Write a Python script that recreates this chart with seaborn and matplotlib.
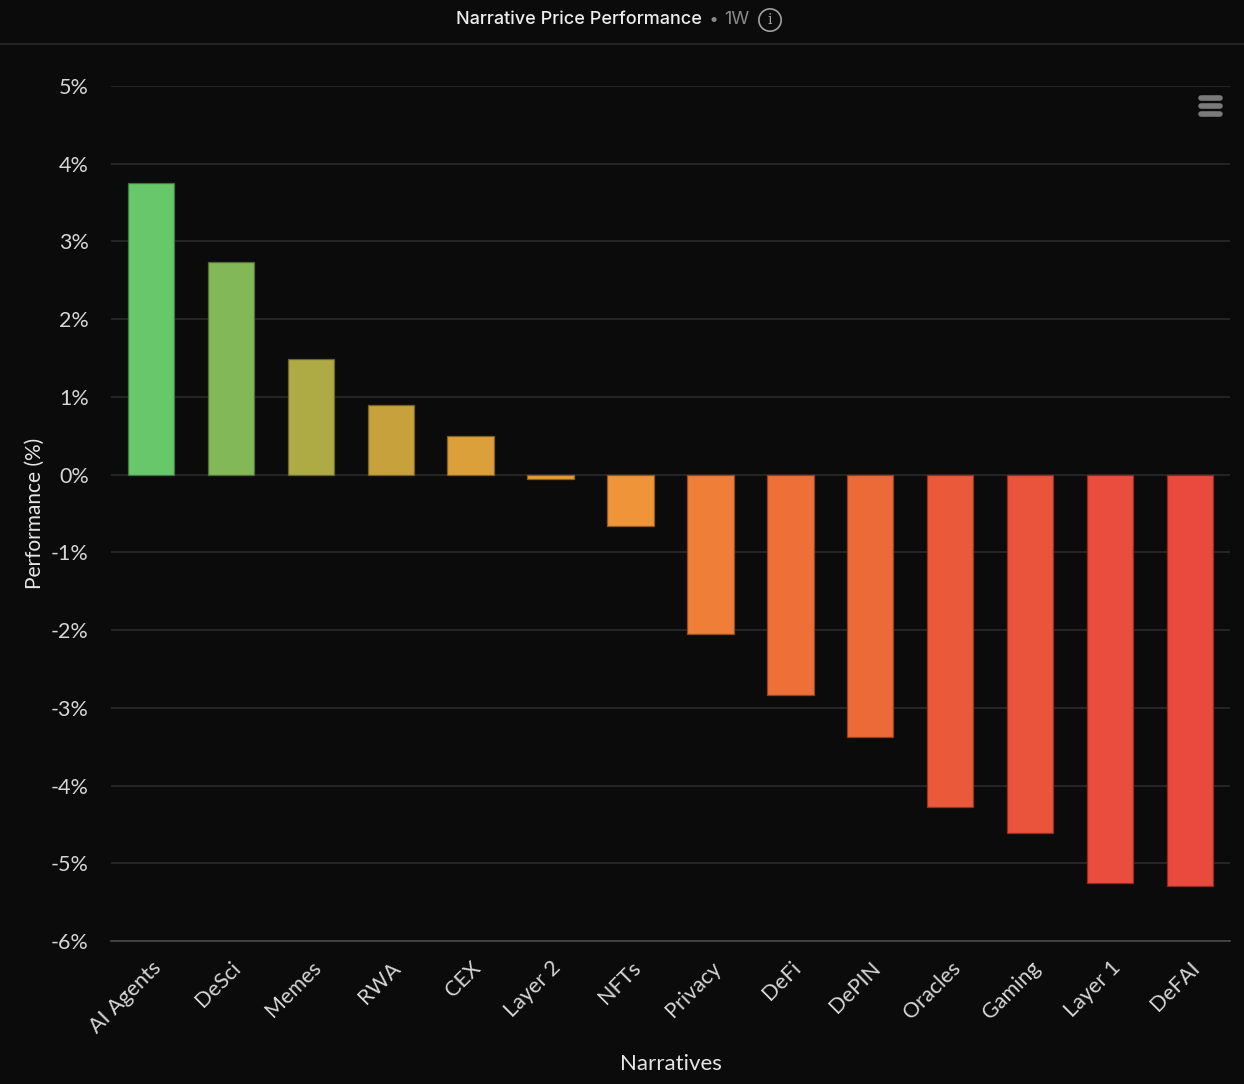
import matplotlib
matplotlib.use("Agg")
import matplotlib.pyplot as plt
from matplotlib.lines import Line2D
import seaborn as sns
import pandas as pd

narratives = ['AI Agents', 'DeSci', 'Memes', 'RWA', 'CEX', 'Layer 2', 'NFTs',
              'Privacy', 'DeFi', 'DePIN', 'Oracles', 'Gaming', 'Layer 1', 'DeFAI']
performance = [3.75, 2.73, 1.49, 0.90, 0.50, -0.05, -0.66,
               -2.05, -2.84, -3.37, -4.27, -4.61, -5.25, -5.29]
bar_colors = ['#67c76a', '#82b858', '#aeaa44', '#c7a23c', '#dba03a', '#e99c38', '#ef9438',
              '#ee7e38', '#ee7038', '#ec6a38', '#ea5a3a', '#ea533c', '#ea4d3d', '#ea4a3e']
y_ticks = [5, 4, 3, 2, 1, 0, -1, -2, -3, -4, -5, -6]

bg = '#0b0b0b'
sns.set_theme(style='dark')
plt.rcParams['font.family'] = ['Lato', 'DejaVu Sans']

data = pd.DataFrame({'narrative': narratives, 'perf': performance})

fig = plt.figure(figsize=(12.44, 10.84), dpi=100, facecolor=bg)
ax = fig.add_axes([0.0892, 0.1319, 0.8995, 0.7888], facecolor=bg)

sns.barplot(data=data, x='narrative', y='perf', hue='narrative',
            palette=dict(zip(narratives, bar_colors)), legend=False, saturation=1,
            width=0.58, ax=ax, linewidth=0.9, zorder=3)
# slightly darker outline per bar
for patch, c in zip(ax.patches, bar_colors):
    r, g, b = matplotlib.colors.to_rgb(c)
    patch.set_edgecolor((r * 0.6, g * 0.6, b * 0.6))

ax.set_xlim(-0.5, len(narratives) - 0.5)
ax.set_ylim(-6, 5)
ax.set_yticks(y_ticks)
ax.set_yticklabels([f'{t}%' for t in y_ticks])
ax.grid(axis='y', color='#2b2b2b', linewidth=1.2, zorder=0)
ax.grid(axis='x', visible=False)
for s in ['top', 'right', 'left']:
    ax.spines[s].set_visible(False)
ax.spines['bottom'].set_color('#4a4a4a')
ax.spines['bottom'].set_linewidth(1.2)

ax.tick_params(axis='y', colors='#d6d6d6', labelsize=15.5, length=0, pad=16)
ax.tick_params(axis='x', colors='#d6d6d6', labelsize=15.5, length=0, pad=12)
plt.setp(ax.get_xticklabels(), rotation=45, ha='right', rotation_mode='anchor')

ax.set_xlabel('Narratives', color='#e6e6e6', fontsize=16, labelpad=12)
ax.set_ylabel('Performance (%)', color='#e6e6e6', fontsize=15, labelpad=4)

# header
fig.text(0.5645, 0.982, 'Narrative Price Performance', color='#ededed', fontsize=13,
         ha='right', va='center', family=['Inter', 'DejaVu Sans'], fontweight='medium')
fig.text(0.5705, 0.982, '\u2022', color='#888888', fontsize=10, ha='left', va='center')
fig.text(0.582, 0.982, '1W', color='#8a8a8a', fontsize=13, ha='left', va='center',
         family=['Inter', 'DejaVu Sans'])
fig.text(0.619, 0.9815, 'i', color='#a0a0a0', fontsize=10, ha='center', va='center',
         family=['DejaVu Serif'],
         bbox=dict(boxstyle='circle,pad=0.3', fc='none', ec='#a0a0a0', lw=1.2))
fig.add_artist(Line2D([0, 1], [1 - 44 / 1084] * 2, color='#2a2a2a', lw=1.2,
                      transform=fig.transFigure))

# menu icon
for yy in [98, 106, 114]:
    fig.add_artist(Line2D([1201 / 1244, 1220 / 1244], [1 - yy / 1084] * 2, color='#7a7a7a',
                          lw=4, solid_capstyle='round', transform=fig.transFigure))

fig.savefig('out.png', dpi=100, facecolor=bg)
